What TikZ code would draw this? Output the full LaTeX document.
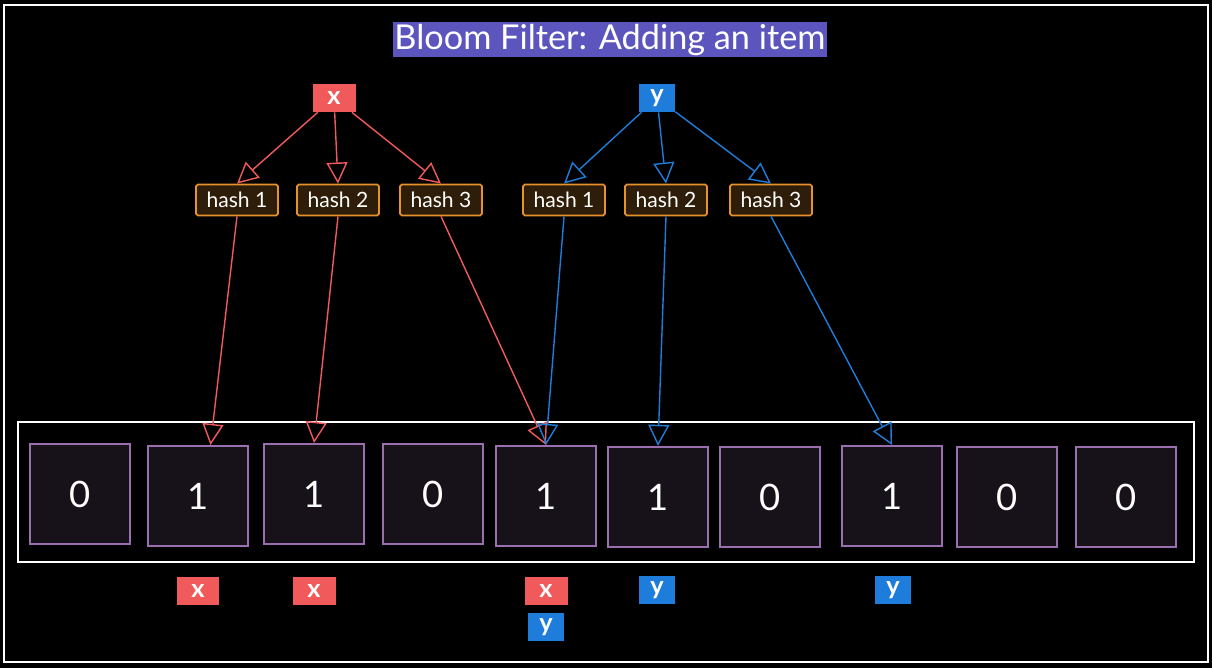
\documentclass[tikz,border=0pt]{standalone}
\usepackage{fontspec}
\setmainfont{Lato}
\usetikzlibrary{arrows.meta,patterns}
\definecolor{xred}{HTML}{F05A5B}
\definecolor{yblue}{HTML}{1E7CDB}
\definecolor{cellpurple}{HTML}{9A6FB0}
\definecolor{hashorange}{HTML}{E8922A}
\definecolor{titlebg}{HTML}{5B55BD}
\begin{document}
\begin{tikzpicture}
        [x=0.02cm, y=-0.02cm,
        cell/.style={draw=cellpurple, line width=1.2pt, minimum size=2cm, fill=black!85!cellpurple, font=\huge, text=white},
        hash/.style={draw=hashorange, line width=1pt, rounded corners=1pt, fill=black!80!hashorange, minimum width=1.64cm, minimum height=0.62cm, inner sep=1pt, font=\large, text=white},
        xtag/.style={fill=xred, text=white, font=\Large\bfseries, minimum width=0.86cm, minimum height=0.56cm, inner sep=0pt},
        ytag/.style={fill=yblue, text=white, font=\Large\bfseries, minimum width=0.72cm, minimum height=0.56cm, inner sep=0pt},
        redarrow/.style={xred, thick, -{Triangle[open, length=12pt, width=12pt]}},
        bluearrow/.style={yblue, thick, -{Triangle[open, length=12pt, width=12pt]}}]

        \fill[black] (0,0) rectangle (1212,668);
        \draw[white, thick] (4,5) rectangle (1208,662);

        \node[fill=titlebg, text=white, font=\fontsize{19.5}{23}\selectfont, inner sep=1pt] (title) at (610,40) {Bloom Filter: Adding an item};

        % bit array
        \draw[white, thick] (18,422) rectangle (1194,562);
        \node[cell] (c0) at (80,494) {0};
        \node[cell] (c1) at (198,496) {1};
        \node[cell] (c2) at (314,494) {1};
        \node[cell] (c3) at (433,494) {0};
        \node[cell] (c4) at (546,496) {1};
        \node[cell] (c5) at (658,497) {1};
        \node[cell] (c6) at (770,497) {0};
        \node[cell] (c7) at (892,496) {1};
        \node[cell] (c8) at (1007,497) {0};
        \node[cell] (c9) at (1126,497) {0};

        % items
        \node[xtag] (x) at (334,98) {x};
        \node[ytag] (y) at (657,98) {y};

        % hash functions
        \node[hash] (xh1) at (237,200) {hash 1};
        \node[hash] (xh2) at (338,200) {hash 2};
        \node[hash] (xh3) at (441,200) {hash 3};
        \node[hash] (yh1) at (564,200) {hash 1};
        \node[hash] (yh2) at (666,200) {hash 2};
        \node[hash] (yh3) at (771,200) {hash 3};

        % item to hash
        \draw[redarrow] (x) -- (xh1.north);
        \draw[redarrow] (x) -- (xh2.north);
        \draw[redarrow] (x) -- (xh3.north);
        \draw[bluearrow] (y) -- (yh1.north);
        \draw[bluearrow] (y) -- (yh2.north);
        \draw[bluearrow] (y) -- (yh3.north);

        % hash to bit
        \draw[redarrow] (xh1.south) -- ([xshift=0.25cm]c1.north);
        \draw[redarrow] (xh2.south) -- (c2.north);
        \draw[redarrow] (xh3.south) -- (c4.north);
        \draw[bluearrow] (yh1.south) -- (c4.north);
        \draw[bluearrow] (yh2.south) -- (c5.north);
        \draw[bluearrow] (yh3.south) -- (c7.north);

        % set-by labels
        \node[xtag] (l1) at (198,591) {x};
        \node[xtag] (l2) at (314,591) {x};
        \node[xtag] (l4x) at (546,591) {x};
        \node[ytag] (l4y) at (546,627) {y};
        \node[ytag] (l5) at (657,590) {y};
        \node[ytag] (l7) at (893,590) {y};
\end{tikzpicture}
\end{document}
